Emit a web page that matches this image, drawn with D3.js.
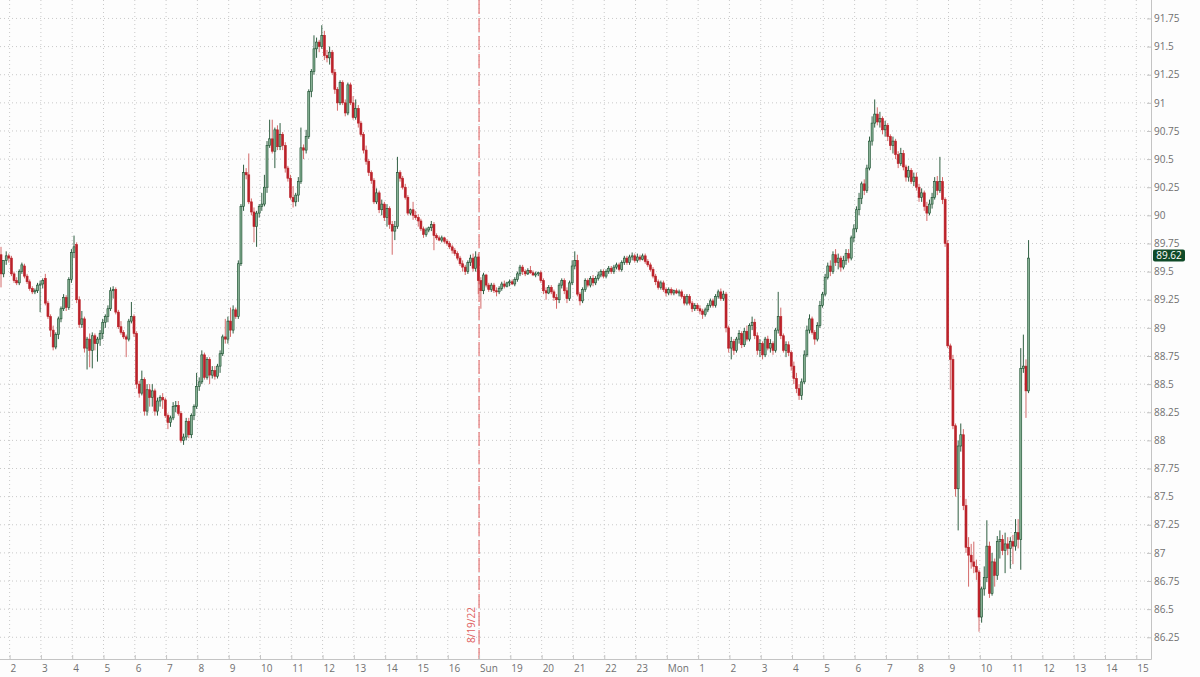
<!DOCTYPE html>
<html><head><meta charset="utf-8">
<script src="https://cdn.jsdelivr.net/npm/d3@7"></script>
<style>
html,body{margin:0;padding:0;background:#fdfdfd;}
svg{display:block;font-family:"Open Sans","Noto Sans",sans-serif;}
</style></head><body>
<svg id="chart" width="1200" height="677"></svg>
<script>
// 5-minute candles, session hours (Fri 1:45 -> Mon 11:35, weekend gap collapsed)
const openP=[
89.65,89.48,89.6,89.64,89.62,89.48,89.42,89.4,89.5,89.55,
89.46,89.41,89.35,89.32,89.33,89.38,89.39,89.44,89.22,89.1,
88.98,88.83,88.94,89.08,89.17,89.27,89.18,89.43,89.67,89.74,
89.25,89.03,89.08,88.82,88.9,88.8,88.93,88.86,88.9,88.95,
89.05,89.1,89.17,89.33,89.34,89.14,89.01,88.96,88.92,88.9,
89.06,89.1,88.95,88.5,88.42,88.54,88.26,88.45,88.38,88.44,
88.26,88.35,88.38,88.36,88.22,88.16,88.2,88.3,88.31,88.24,
88.0,88.03,88.17,88.05,88.22,88.3,88.48,88.52,88.76,88.56,
88.72,88.58,88.62,88.57,88.66,88.77,88.92,88.9,89.06,88.98,
89.16,89.1,89.57,90.08,90.38,90.36,90.12,90.03,89.9,90.02,
90.08,90.1,90.25,90.62,90.68,90.57,90.76,90.61,90.72,90.62,
90.42,90.33,90.16,90.12,90.18,90.3,90.6,90.58,90.7,91.1,
91.28,91.48,91.54,91.5,91.6,91.42,91.4,91.45,91.27,91.12,
91.0,91.18,91.0,90.91,91.16,91.0,90.87,90.95,90.82,90.72,
90.58,90.48,90.38,90.31,90.12,90.2,90.05,90.1,89.98,90.06,
89.92,89.86,89.9,90.38,90.33,90.25,90.16,90.02,90.05,90.0,
89.98,89.95,89.88,89.83,89.87,89.89,89.92,89.82,89.8,89.78,
89.8,89.77,89.75,89.72,89.69,89.66,89.62,89.57,89.54,89.5,
89.58,89.62,89.53,89.63,89.42,89.33,89.47,89.38,89.34,89.38,
89.33,89.32,89.35,89.39,89.37,89.4,89.41,89.39,89.43,89.48,
89.54,89.5,89.48,89.51,89.49,89.47,89.48,89.49,89.42,89.33,
89.31,89.36,89.32,89.27,89.25,89.38,89.42,89.33,89.26,89.4,
89.55,89.6,89.3,89.24,89.34,89.42,89.38,89.44,89.4,89.44,
89.47,89.5,89.46,89.5,89.53,89.5,89.54,89.56,89.52,89.58,
89.62,89.58,89.63,89.64,89.6,89.63,89.61,89.64,89.59,89.56,
89.52,89.46,89.41,89.36,89.4,89.34,89.31,89.34,89.31,89.33,
89.31,89.32,89.28,89.22,89.28,89.22,89.17,89.2,89.17,89.15,
89.12,89.16,89.2,89.24,89.2,89.28,89.32,89.26,89.3,89.0,
88.82,88.88,88.8,88.9,88.95,88.85,88.97,88.9,89.02,89.05,
88.93,88.8,88.86,88.76,88.9,88.82,88.86,88.8,88.98,89.1,
88.93,88.8,88.85,88.78,88.66,88.55,88.46,88.4,88.52,88.76,
88.98,89.08,88.96,88.9,89.02,89.2,89.3,89.45,89.55,89.5,
89.65,89.58,89.62,89.54,89.6,89.66,89.62,89.8,89.88,90.05,
90.15,90.28,90.22,90.42,90.66,90.82,90.9,90.83,90.86,90.76,
90.8,90.7,90.62,90.66,90.54,90.46,90.55,90.43,90.34,90.4,
90.3,90.34,90.25,90.16,90.2,90.08,90.02,90.1,90.16,90.3,
90.22,90.3,90.14,89.75,88.84,88.72,88.13,87.57,87.95,88.05,
87.42,87.05,86.98,86.92,86.88,86.83,86.43,86.68,86.78,87.06,
86.64,86.92,86.8,87.1,87.12,87.02,87.08,87.04,87.1,87.06,
87.18,87.12,88.64,88.66,88.44];
const highP=[
89.72,89.6,89.68,89.66,89.64,89.5,89.45,89.52,89.58,89.57,
89.48,89.43,89.37,89.35,89.4,89.42,89.44,89.48,89.24,89.12,
89.02,88.96,89.1,89.19,89.3,89.29,89.45,89.7,89.82,89.76,
89.28,89.15,89.1,88.92,88.95,88.96,88.95,88.92,88.98,89.08,
89.12,89.2,89.36,89.37,89.36,89.16,89.06,88.98,88.94,89.08,
89.23,89.12,88.97,88.53,88.62,88.56,88.5,88.5,88.5,88.46,
88.38,88.4,88.42,88.38,88.24,88.22,88.34,88.35,88.35,88.26,
88.06,88.2,88.2,88.24,88.32,88.6,88.56,88.8,88.78,88.74,
88.74,88.66,88.66,88.68,88.8,88.94,89.08,89.1,89.18,89.2,
89.18,89.6,90.1,90.45,90.42,90.55,90.15,90.07,90.04,90.1,
90.2,90.36,90.66,90.85,90.85,90.78,90.8,90.82,90.74,90.65,
90.44,90.36,90.26,90.2,90.34,90.78,90.63,90.76,91.12,91.3,
91.6,91.58,91.56,91.69,91.64,91.47,91.5,91.47,91.3,91.14,
91.2,91.2,91.03,91.18,91.18,91.06,91.03,90.98,90.84,90.74,
90.62,90.5,90.4,90.33,90.24,90.22,90.14,90.12,90.1,90.08,
89.95,89.95,90.52,90.4,90.35,90.28,90.18,90.06,90.12,90.04,
90.01,89.97,89.9,89.89,89.9,89.95,89.94,89.84,89.82,89.82,
89.81,89.79,89.77,89.74,89.71,89.68,89.64,89.6,89.56,89.6,
89.65,89.66,89.68,89.66,89.45,89.49,89.48,89.4,89.4,89.4,
89.36,89.37,89.41,89.42,89.41,89.43,89.43,89.45,89.5,89.56,
89.56,89.52,89.53,89.55,89.51,89.5,89.5,89.51,89.44,89.36,
89.38,89.38,89.34,89.3,89.4,89.44,89.44,89.36,89.42,89.6,
89.68,89.65,89.32,89.36,89.44,89.44,89.46,89.47,89.46,89.5,
89.52,89.52,89.52,89.55,89.55,89.56,89.58,89.58,89.6,89.64,
89.64,89.65,89.67,89.66,89.66,89.65,89.66,89.66,89.61,89.58,
89.54,89.48,89.43,89.42,89.42,89.36,89.36,89.36,89.34,89.35,
89.34,89.34,89.3,89.3,89.3,89.24,89.22,89.22,89.2,89.17,
89.18,89.22,89.26,89.26,89.3,89.34,89.35,89.33,89.32,89.02,
88.92,88.9,88.92,88.98,88.97,89.0,89.02,89.04,89.1,89.08,
88.96,88.9,88.88,88.92,88.93,88.9,88.88,89.0,89.32,89.18,
88.95,88.88,88.88,88.8,88.7,88.6,88.5,88.55,88.8,89.02,
89.12,89.1,88.98,89.05,89.24,89.32,89.48,89.58,89.6,89.68,
89.7,89.66,89.64,89.64,89.7,89.7,89.82,89.92,90.08,90.2,
90.3,90.32,90.45,90.7,90.88,91.03,90.96,90.92,90.88,90.84,
90.82,90.72,90.7,90.68,90.57,90.6,90.58,90.45,90.44,90.42,
90.38,90.38,90.28,90.24,90.22,90.12,90.14,90.2,90.34,90.35,
90.52,90.34,90.16,89.78,88.86,88.76,88.15,88.0,88.15,88.1,
87.48,87.14,87.08,87.1,86.94,86.85,86.7,86.88,87.29,87.1,
87.0,86.95,87.15,87.2,87.16,87.18,87.14,87.14,87.16,87.3,
87.3,88.82,88.94,88.72,89.78];
const lowP=[
89.36,89.45,89.56,89.58,89.46,89.4,89.38,89.38,89.48,89.44,
89.39,89.33,89.3,89.3,89.31,89.14,89.35,89.2,89.08,88.92,
88.8,88.81,88.9,89.05,89.15,89.15,89.16,89.4,89.62,89.22,
89.0,89.0,88.78,88.63,88.65,88.64,88.8,88.7,88.84,88.9,
89.0,89.05,89.15,89.26,89.12,88.99,88.94,88.9,88.74,88.88,
89.04,88.92,88.46,88.38,88.4,88.22,88.22,88.3,88.3,88.22,
88.22,88.3,88.28,88.2,88.1,88.12,88.18,88.25,88.22,87.98,
87.96,88.0,88.02,88.02,88.18,88.28,88.44,88.5,88.54,88.54,
88.5,88.55,88.54,88.55,88.6,88.75,88.86,88.86,88.92,88.95,
89.08,89.08,89.55,90.04,90.32,90.1,90.0,89.76,89.72,89.98,
90.04,90.08,90.2,90.6,90.55,90.42,90.58,90.58,90.58,90.38,
90.3,90.14,90.07,90.08,90.12,90.28,90.5,90.55,90.68,91.05,
91.25,91.4,91.45,91.48,91.38,91.36,91.34,91.25,91.08,90.93,
90.98,90.98,90.88,90.89,90.98,90.85,90.85,90.78,90.7,90.55,
90.45,90.35,90.28,90.1,90.1,90.02,90.0,89.95,89.9,89.88,
89.65,89.78,89.88,90.3,90.23,90.14,90.0,90.0,89.96,89.96,
89.9,89.86,89.8,89.81,89.85,89.86,89.69,89.78,89.77,89.76,
89.75,89.73,89.7,89.66,89.64,89.6,89.55,89.5,89.47,89.48,
89.55,89.5,89.5,89.3,89.17,89.3,89.36,89.32,89.32,89.31,
89.28,89.3,89.33,89.35,89.36,89.37,89.38,89.37,89.41,89.46,
89.47,89.46,89.47,89.48,89.46,89.45,89.46,89.4,89.3,89.25,
89.3,89.3,89.24,89.17,89.22,89.35,89.3,89.22,89.24,89.38,
89.52,89.28,89.2,89.22,89.32,89.36,89.36,89.37,89.38,89.42,
89.45,89.44,89.44,89.48,89.48,89.48,89.52,89.5,89.5,89.56,
89.56,89.56,89.6,89.58,89.58,89.59,89.6,89.57,89.54,89.5,
89.44,89.38,89.34,89.34,89.32,89.28,89.29,89.29,89.29,89.3,
89.28,89.26,89.2,89.2,89.2,89.14,89.15,89.15,89.12,89.08,
89.1,89.14,89.18,89.18,89.18,89.26,89.24,89.24,88.96,88.78,
88.72,88.76,88.78,88.86,88.82,88.83,88.88,88.88,88.98,88.9,
88.76,88.74,88.72,88.74,88.8,88.78,88.76,88.78,88.95,88.9,
88.78,88.74,88.75,88.62,88.5,88.42,88.36,88.36,88.5,88.74,
88.95,88.94,88.85,88.88,89.0,89.18,89.28,89.43,89.46,89.48,
89.55,89.52,89.5,89.52,89.56,89.58,89.6,89.76,89.85,90.0,
90.1,90.18,90.2,90.4,90.62,90.78,90.8,90.78,90.72,90.7,
90.66,90.58,90.55,90.5,90.42,90.44,90.4,90.3,90.3,90.28,
90.26,90.22,90.12,90.12,90.04,89.95,90.0,90.06,90.14,90.18,
90.2,90.1,89.72,88.82,88.45,88.1,87.5,87.2,87.9,87.38,
87.0,86.7,86.86,86.82,86.76,86.3,86.38,86.62,86.74,86.6,
86.62,86.7,86.76,86.95,86.98,86.82,86.98,86.86,86.9,87.02,
87.04,86.85,88.6,88.2,88.42];
const closeP=[
89.48,89.6,89.64,89.62,89.48,89.42,89.4,89.5,89.56,89.46,
89.41,89.35,89.32,89.33,89.38,89.39,89.42,89.22,89.1,88.98,
88.83,88.94,89.08,89.17,89.27,89.18,89.43,89.67,89.72,89.25,
89.03,89.08,88.82,88.9,88.8,88.93,88.86,88.9,88.95,89.05,
89.1,89.17,89.33,89.34,89.14,89.01,88.96,88.92,88.9,89.06,
89.1,88.95,88.5,88.42,88.54,88.26,88.45,88.38,88.44,88.26,
88.35,88.38,88.36,88.22,88.16,88.2,88.3,88.31,88.24,88.0,
88.03,88.17,88.05,88.22,88.3,88.48,88.52,88.76,88.56,88.72,
88.58,88.62,88.57,88.66,88.77,88.92,88.9,89.06,88.98,89.16,
89.1,89.57,90.08,90.38,90.36,90.12,90.03,89.9,90.02,90.08,
90.1,90.25,90.62,90.68,90.57,90.76,90.61,90.72,90.62,90.42,
90.33,90.16,90.12,90.18,90.3,90.6,90.58,90.7,91.1,91.28,
91.48,91.54,91.5,91.6,91.42,91.4,91.45,91.27,91.12,91.0,
91.18,91.0,90.91,91.16,91.0,90.87,90.95,90.82,90.72,90.58,
90.48,90.38,90.31,90.12,90.2,90.05,90.1,89.98,90.06,89.92,
89.86,89.9,90.38,90.33,90.25,90.16,90.02,90.05,90.0,89.98,
89.95,89.88,89.83,89.87,89.89,89.92,89.82,89.8,89.78,89.8,
89.77,89.75,89.72,89.69,89.66,89.62,89.57,89.54,89.5,89.58,
89.62,89.53,89.63,89.42,89.33,89.47,89.38,89.34,89.38,89.33,
89.32,89.35,89.39,89.37,89.4,89.41,89.39,89.43,89.48,89.54,
89.5,89.48,89.51,89.49,89.47,89.48,89.49,89.42,89.33,89.31,
89.36,89.32,89.27,89.25,89.38,89.42,89.33,89.26,89.4,89.55,
89.6,89.3,89.24,89.34,89.42,89.38,89.44,89.4,89.44,89.47,
89.5,89.46,89.5,89.53,89.5,89.54,89.56,89.52,89.58,89.62,
89.58,89.63,89.64,89.6,89.63,89.61,89.64,89.59,89.56,89.52,
89.46,89.41,89.36,89.4,89.34,89.31,89.34,89.31,89.33,89.31,
89.32,89.28,89.22,89.28,89.22,89.17,89.2,89.17,89.15,89.12,
89.16,89.2,89.24,89.2,89.28,89.32,89.26,89.3,89.0,88.82,
88.88,88.8,88.9,88.95,88.85,88.97,88.9,89.02,89.05,88.93,
88.8,88.86,88.76,88.9,88.82,88.86,88.8,88.98,89.1,88.93,
88.8,88.85,88.78,88.66,88.55,88.46,88.4,88.52,88.76,88.98,
89.08,88.96,88.9,89.02,89.2,89.3,89.45,89.55,89.5,89.65,
89.58,89.62,89.54,89.6,89.66,89.62,89.8,89.88,90.05,90.15,
90.28,90.22,90.42,90.66,90.82,90.9,90.83,90.86,90.76,90.8,
90.7,90.62,90.66,90.54,90.46,90.55,90.43,90.34,90.4,90.3,
90.34,90.25,90.16,90.2,90.08,90.02,90.1,90.16,90.3,90.22,
90.3,90.14,89.75,88.84,88.72,88.13,87.57,87.95,88.05,87.42,
87.05,86.98,86.92,86.88,86.83,86.43,86.68,86.78,87.06,86.64,
86.92,86.8,87.1,87.12,87.02,87.08,87.04,87.1,87.06,87.18,
87.12,88.64,88.66,88.44,89.62];

// axis data
const xTickLabels=["2","3","4","5","6","7","8","9","10","11","12","13","14","15","16","Sun","19","20","21","22","23","Mon","1","2","3","4","5","6","7","8","9","10","11","12","13","14","15"];
const xTickHours=d3.range(2,2+xTickLabels.length);   // session hours of the tick marks
const yTicks=[86.25,86.5,86.75,87,87.25,87.5,87.75,88,88.25,88.5,88.75,89,89.25,89.5,89.75,90,90.25,90.5,90.75,91,91.25,91.5,91.75];
const candleStartHour=1.725, candleStepHours=1/12;
const sessionBreakHour=17, sessionBreakLabel="8/19/22";
const lastPrice=closeP[closeP.length-1];

// layout & scales
const plotRight=1151, plotBottom=659;
const x=d3.scaleLinear().domain([1.693,38.47]).range([0,plotRight]);
const y=d3.scaleLinear().domain([86.057,91.914]).range([plotBottom,0]);

const svg=d3.select("#chart");
svg.append("rect").attr("width",1200).attr("height",677).attr("fill","#fdfdfd");

const gridColor="#c9c9c9";
const grid=svg.append("g");
grid.selectAll("line.h").data(yTicks).join("line")
  .attr("x1",0).attr("x2",plotRight).attr("y1",d=>y(d)).attr("y2",d=>y(d))
  .attr("stroke",gridColor).attr("stroke-width",1).attr("stroke-dasharray","1,3");
grid.selectAll("line.v").data(xTickHours).join("line")
  .attr("x1",d=>x(d)).attr("x2",d=>x(d)).attr("y1",0).attr("y2",plotBottom)
  .attr("stroke",gridColor).attr("stroke-width",1).attr("stroke-dasharray","1,3");

// session break marker
svg.append("line").attr("x1",x(sessionBreakHour)).attr("x2",x(sessionBreakHour))
  .attr("y1",0).attr("y2",plotBottom).attr("stroke","#e05a5a").attr("stroke-width",1)
  .attr("stroke-dasharray","14,4");
svg.append("text").text(sessionBreakLabel)
  .attr("transform",`translate(${x(sessionBreakHour)-4},${plotBottom-16}) rotate(-90)`)
  .attr("font-size",10).attr("fill","#e06060").attr("text-anchor","start");

// candles
const candles=d3.range(closeP.length).map(i=>({t:candleStartHour+i*candleStepHours,o:openP[i],h:highP[i],l:lowP[i],c:closeP[i]}));
const upStroke="#184d2c", upFill="#86b094", downFill="#bb222a", downWick="#cf5a5a";
const cg=svg.append("g");
cg.selectAll("line").data(candles).join("line")
  .attr("x1",d=>x(d.t)).attr("x2",d=>x(d.t))
  .attr("y1",d=>y(d.h)).attr("y2",d=>y(d.l))
  .attr("stroke",d=>d.c>=d.o?upStroke:downWick).attr("stroke-width",0.9);
cg.selectAll("rect").data(candles).join("rect")
  .attr("x",d=>x(d.t)-1).attr("width",2)
  .attr("y",d=>y(Math.max(d.o,d.c)))
  .attr("height",d=>Math.max(0.8,Math.abs(y(d.o)-y(d.c))))
  .attr("fill",d=>d.c>=d.o?upFill:downFill)
  .attr("stroke",d=>d.c>=d.o?upStroke:downFill).attr("stroke-width",0.6);

// axes
const axisColor="#c4c4c4", labelColor="#707070";
const yAxis=svg.append("g").attr("transform",`translate(${plotRight},0)`)
  .call(d3.axisRight(y).tickValues(yTicks).tickSize(-4).tickPadding(3).tickFormat(d3.format("")));
const xAxis=svg.append("g").attr("transform",`translate(0,${plotBottom})`)
  .call(d3.axisBottom(x).tickValues(xTickHours).tickSize(-4).tickPadding(6).tickFormat((d,i)=>xTickLabels[i]));
[yAxis,xAxis].forEach(a=>{
  a.select(".domain").remove();
  a.selectAll(".tick line").attr("stroke",axisColor);
  a.selectAll("text").attr("fill",labelColor).attr("font-size",10).attr("font-family","'Open Sans','Noto Sans',sans-serif");
});
xAxis.selectAll("text").attr("text-anchor","start").attr("dx",0.5);
svg.append("line").attr("x1",plotRight+0.5).attr("x2",plotRight+0.5).attr("y1",0).attr("y2",plotBottom+0.5).attr("stroke",axisColor);
svg.append("line").attr("x1",0).attr("x2",plotRight+0.5).attr("y1",plotBottom+0.5).attr("y2",plotBottom+0.5).attr("stroke",axisColor);

// last price tag
const tag=svg.append("g").attr("transform",`translate(${plotRight+2},${y(lastPrice)-2.5})`);
tag.append("rect").attr("x",0).attr("y",-6).attr("width",32).attr("height",12).attr("rx",2).attr("fill","#0f4a28");
tag.append("text").text(lastPrice.toFixed(2)).attr("x",16).attr("y",0).attr("dy","0.35em")
  .attr("text-anchor","middle").attr("fill","#ffffff").attr("font-size",10);
</script>
</body></html>
